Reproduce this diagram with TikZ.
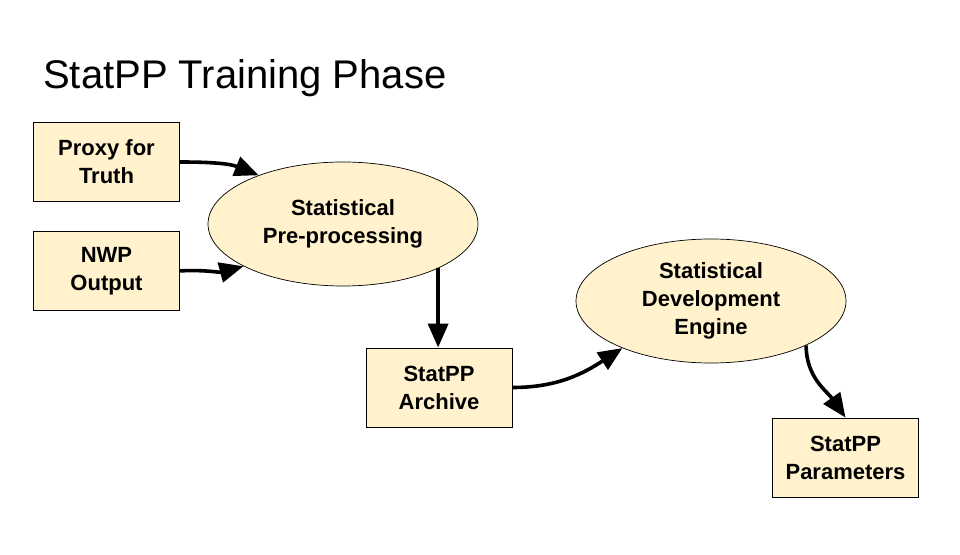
\documentclass[tikz,border=0pt]{standalone}
\usepackage{fontspec}
\setmainfont{Liberation Sans}
\usepackage{tikz}
\usepackage{xcolor}
\usetikzlibrary{positioning, shapes.geometric, arrows.meta}
\definecolor{paleyellow}{HTML}{FFF2CC}

\begin{document}
\begin{tikzpicture}
[
x=1pt, y=1pt,
box-a/.style={rectangle, draw, fill=paleyellow, line width=0.9pt, minimum width=146pt, minimum height=79pt, inner sep=0pt, align=center, font=\fontsize{22}{28}\selectfont\bfseries},
oval-a/.style={ellipse, draw, fill=paleyellow, line width=0.7pt, minimum width=270pt, minimum height=124pt, inner sep=0pt, align=center, font=\fontsize{22}{28}\selectfont\bfseries},
arrow-a/.style={line width=3.6pt, -{Triangle[length=24pt, width=20pt]}},
text-a/.style={black, inner sep=0pt, font=\fontsize{40}{48}\selectfont}
]
\useasboundingbox (0,0) rectangle (960,554);
\node (title)   [text-a, anchor=base west] at (43,465)        {StatPP Training Phase};
\node (proxy)   [box-a ] at (106.5,392)                      {Proxy for\\Truth};
\node (nwp)     [box-a, below = 29pt of proxy]               {NWP\\Output};
\node (pre)     [oval-a] at (343,330)                        {Statistical\\Pre-processing};
\node (archive) [box-a ] at (439,166.5)                      {StatPP\\Archive};
\node (dev)     [oval-a] at (711,253)                        {Statistical\\Development\\Engine};
\node (param)   [box-a ] at (845.5,96.5)                     {StatPP\\Parameters};
% connectors
\draw [arrow-a] (proxy.east)   to[out=0,  in=158] (pre.150);
\draw [arrow-a] (nwp.east)     to[out=3,  in=195] (pre.203);
\draw [arrow-a] (pre.335)      --                 (pre.335 |- archive.north);
\draw [arrow-a] (archive.east) to[out=0,  in=213] (dev.208);
\draw [arrow-a] (dev.335)      to[out=-90,in=125] (param.north);
\end{tikzpicture}
\end{document}
